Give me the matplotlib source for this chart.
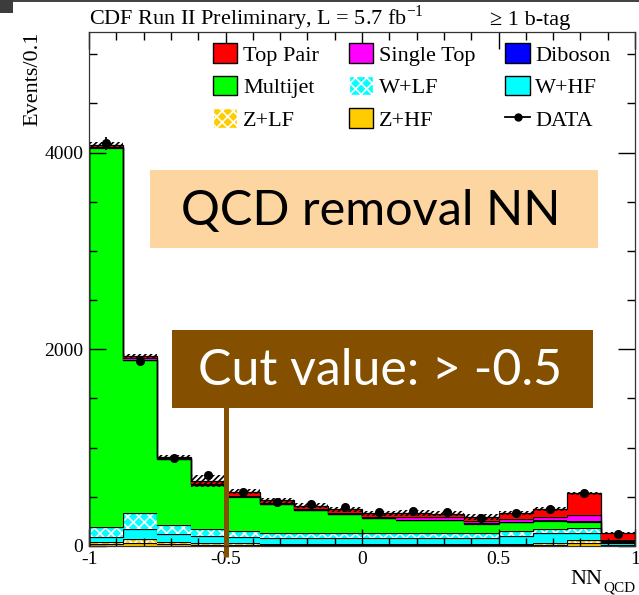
import numpy as np
import matplotlib.pyplot as plt
from matplotlib.patches import Patch, Rectangle
from matplotlib.lines import Line2D
from matplotlib.ticker import MultipleLocator
import matplotlib.transforms as mtransforms

plt.rcParams['font.family'] = ['Liberation Serif', 'DejaVu Serif']
plt.rcParams['mathtext.fontset'] = 'stix'
plt.rcParams['hatch.linewidth'] = 1.2

# NN_QCD output, 16 bins from -1 to 1
edges = np.linspace(-1.0, 1.0, 17)

z_hf = [15, 25, 15, 12, 10, 8, 8, 8, 8, 8, 8, 7, 10, 12, 25, 5]
z_lf = [20, 45, 20, 18, 15, 12, 12, 12, 12, 12, 12, 10, 12, 15, 35, 5]
w_hf = [60, 100, 85, 70, 69, 64, 62, 62, 60, 60, 60, 60, 82, 107, 68, 15]
w_lf = [100, 160, 90, 75, 61, 50, 50, 50, 50, 50, 50, 50, 48, 38, 51, 10]
multijet = [3855, 1560, 670, 445, 345, 289, 233, 192, 150, 133, 133, 96, 88, 81, 67, 15]
diboson = [5, 5, 3, 3, 3, 3, 3, 3, 3, 5, 5, 5, 5, 6, 7, 3]
single_top = [5, 15, 7, 7, 7, 7, 10, 12, 12, 25, 22, 30, 30, 32, 61, 7]
top_pair = [20, 25, 15, 30, 40, 30, 30, 35, 35, 40, 38, 35, 60, 80, 222, 75]
mc_unc = [25, 20, 20, 65, 25, 22, 25, 25, 25, 30, 27, 28, 20, 21, 15, 10]
data = [4094, 1884, 891, 718, 551, 450, 423, 392, 342, 358, 342, 287, 338, 378, 541, 121]

cut_value = -0.5

W, H = 639, 595
fig = plt.figure(figsize=(W / 100, H / 100), dpi=100)
ax = fig.add_axes([89 / W, 1 - 545.9 / H, 546 / W, (545.9 - 31.7) / H])

# stack from bottom to top: (values, face colour, hatched?)
stack = [
    (z_hf, '#ffcc00', False),
    (z_lf, '#ffcc00', True),
    (w_hf, '#00ffff', False),
    (w_lf, '#00ffff', True),
    (multijet, '#00ff00', False),
    (diboson, '#0000ff', False),
    (single_top, '#ff00ff', False),
    (top_pair, '#ff0000', False),
]

base = np.zeros(len(data))
for vals, col, hatched in stack:
    top = base + np.array(vals)
    if hatched:
        ax.stairs(top, edges, baseline=base, fill=True, facecolor=col,
                  edgecolor='white', hatch='xxx', linewidth=0)
    else:
        ax.stairs(top, edges, baseline=base, fill=True, color=col, linewidth=0)
    ax.stairs(top, edges, color='black', linewidth=0.9)
    base = top

total = base
unc = np.array(mc_unc)
ax.stairs(total + unc, edges, baseline=total - unc, fill=True, facecolor='none',
          edgecolor='black', hatch='//////', linewidth=0)

centers = 0.5 * (edges[:-1] + edges[1:])
ax.errorbar(centers, data, yerr=np.sqrt(data), fmt='o', color='black',
            ms=5.5, elinewidth=1.3, capsize=0)

ax.set_xlim(-1, 1)
ax.set_ylim(0, 5230)
ax.set_xticks([-1, -0.5, 0, 0.5, 1])
ax.set_xticklabels(['-1', '-0.5', '0', '0.5', '1'])
ax.set_yticks([0, 2000, 4000])
ax.xaxis.set_minor_locator(MultipleLocator(0.1))
ax.yaxis.set_minor_locator(MultipleLocator(500))
ax.tick_params(which='both', direction='in', top=True, right=True,
               labelsize=14, pad=4, width=1)
ax.tick_params(which='major', length=12)
ax.tick_params(which='minor', length=6)
for sp in ax.spines.values():
    sp.set_linewidth(0.9)
    sp.set_color('#333333')

ax.set_ylabel('Events/0.1', fontsize=16, loc='top')
ax.yaxis.set_label_coords(-0.086, 1.0)
fig.text(570 / W, 1 - 584 / H, 'NN', fontsize=16, va='baseline')
fig.text(603 / W, 1 - 592 / H, 'QCD', fontsize=11, va='baseline')

fig.text(89 / W, 1 - 25 / H, r'CDF Run II Preliminary, L = 5.7 fb$^{\mathregular{-1}}$',
         fontsize=16, va='baseline')
fig.text(490 / W, 1 - 25 / H, '\u2265 1 b-tag', fontsize=16, va='baseline')

handles = [
    Patch(facecolor='#ff0000', edgecolor='black'),
    Patch(facecolor='#00ff00', edgecolor='black'),
    Patch(facecolor='#ffcc00', edgecolor='white', hatch='xxx'),
    Patch(facecolor='#ff00ff', edgecolor='black'),
    Patch(facecolor='#00ffff', edgecolor='white', hatch='xxx'),
    Patch(facecolor='#ffcc00', edgecolor='black'),
    Patch(facecolor='#0000ff', edgecolor='black'),
    Patch(facecolor='#00ffff', edgecolor='black'),
    Line2D([], [], color='black', marker='o', ms=5, lw=1.3),
]
labels = ['Top Pair', 'Multijet', 'Z+LF', 'Single Top', 'W+LF', 'Z+HF',
          'Diboson', 'W+HF', 'DATA']
ax.legend(handles, labels, ncol=3, loc='upper left',
          bbox_to_anchor=(213 / W, 1 - 43 / H), bbox_transform=fig.transFigure,
          frameon=False, fontsize=16, handlelength=1.1, handleheight=1.0,
          handletextpad=0.25, columnspacing=1.35, labelspacing=0.45,
          borderpad=0, borderaxespad=0)

# slide annotations
fig.add_artist(Rectangle((150 / W, 1 - 248 / H), 448 / W, 78 / H,
                         transform=fig.transFigure, facecolor='#fdd5a0',
                         edgecolor='none'))
fig.text(371 / W, 1 - 225 / H, 'QCD removal NN', fontsize=35, family='Lato',
         ha='center', va='baseline', color='black')

trans = mtransforms.blended_transform_factory(ax.transData, ax.transAxes)
ax.plot([cut_value, cut_value], [-0.022, 0.27], color='#845000', lw=3.6,
        transform=trans, clip_on=False, solid_capstyle='butt')
fig.add_artist(Rectangle((172 / W, 1 - 408 / H), 421 / W, 78 / H,
                         transform=fig.transFigure, facecolor='#845000',
                         edgecolor='none'))
fig.text(380 / W, 1 - 385 / H, 'Cut value: > -0.5', fontsize=36, family='Lato',
         ha='center', va='baseline', color='white')

# slide chrome at the top edge
fig.add_artist(Rectangle((0, 1 - 1.5 / H), 1, 1.5 / H, transform=fig.transFigure,
                         facecolor='#444444', edgecolor='none'))
fig.add_artist(Rectangle((0, 1 - 13 / H), 13 / W, 13 / H, transform=fig.transFigure,
                         facecolor='#3c3c3c', edgecolor='none'))

fig.savefig('out.png', dpi=100)
